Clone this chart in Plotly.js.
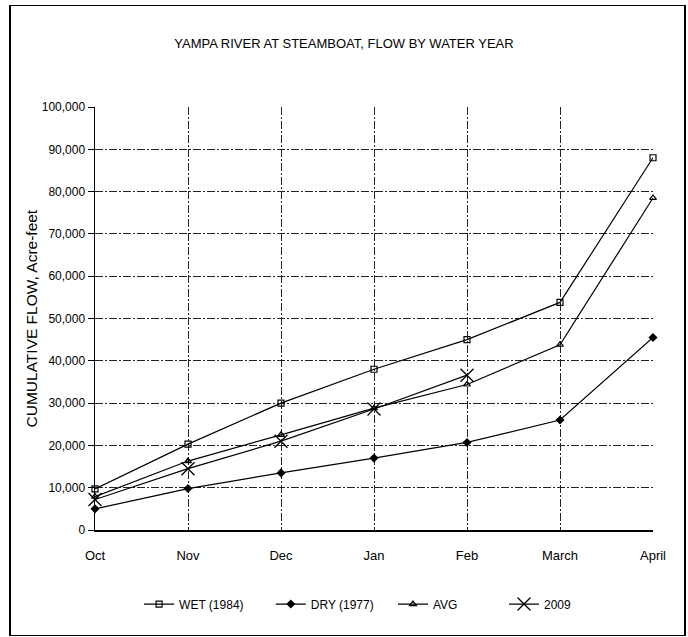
<!DOCTYPE html>
<html><head><meta charset="utf-8">
<script src="https://cdn.plot.ly/plotly-3.0.1.min.js"></script>
<style>
body{margin:0;padding:0;background:#fff;}
#chart{width:688px;height:637px;position:absolute;left:0;top:0;}
#frame{position:absolute;left:9px;top:5px;width:673px;height:629px;border:1px solid #000;border-width:1px 2px 1px 2px;pointer-events:none;}
</style></head>
<body>
<div id="chart"></div><div id="frame"></div>
<script>
const months = ["Oct","Nov","Dec","Jan","Feb","March","April"];
const wet1984 = [9700, 20300, 30000, 38000, 45000, 53800, 88000];
const dry1977 = [5000, 9800, 13500, 17000, 20700, 26000, 45500];
const avg = [7900, 16300, 22500, 28800, 34400, 43800, 78500];
const y2009 = [7200, 14500, 21000, 28600, 36600];
const yTicks = [0,10000,20000,30000,40000,50000,60000,70000,80000,90000,100000];
const yTitle = "CUMULATIVE FLOW, Acre-feet";

const narrow = "Liberation Sans Narrow, Arial Narrow, Liberation Sans, Arial, sans-serif";
const line = {color:"#000", width:1.2};
const traces = [
  {name:"WET (1984)", legend:"legend", x:months, y:wet1984, mode:"lines+markers", line:line,
   marker:{symbol:"square-open", size:6, color:"#000", line:{width:1.2}}},
  {name:"DRY (1977)", legend:"legend2", x:months, y:dry1977, mode:"lines+markers", line:line,
   marker:{symbol:"diamond", size:7, color:"#000"}},
  {name:"AVG", legend:"legend3", x:months, y:avg, mode:"lines+markers", line:line,
   marker:{symbol:"triangle-up-open", size:6, color:"#000", line:{width:1.2}}},
  {name:"2009", legend:"legend4", x:months.slice(0, y2009.length), y:y2009, mode:"lines+markers", line:line,
   marker:{symbol:"x-thin-open", size:13, color:"#000", line:{width:1.3, color:"#000"}}}
];
traces.forEach(t=>t.cliponaxis=false);

function leg(x){
  return {orientation:"h", x:x, xanchor:"left", y:-0.175, yanchor:"middle",
          font:{family:narrow, size:12, color:"#000"}, itemwidth:30, bgcolor:"rgba(0,0,0,0)"};
}

const layout = {
  width:688, height:637,
  margin:{l:95, r:35, t:107, b:107},
  paper_bgcolor:"#fff", plot_bgcolor:"#fff",
  showlegend:true,
  title:{text:"YAMPA RIVER AT STEAMBOAT, FLOW BY WATER YEAR", x:0.5, xanchor:"center", y:0.932, yanchor:"middle",
         font:{family:narrow, size:13, color:"#000"}},
  xaxis:{type:"category", range:[0,6], tickvals:months, ticktext:months,
         showline:true, linecolor:"#000", linewidth:1.5,
         showgrid:true, gridcolor:"#222", griddash:"8px,2px,2px,2px", gridwidth:1,
         ticks:"", ticklabelstandoff:13, tickfont:{family:narrow, size:13, color:"#000"}, zeroline:false, mirror:false},
  yaxis:{range:[0,100000], tickvals:yTicks, tickformat:",d",
         showline:true, linecolor:"#000", linewidth:1.5,
         showgrid:true, gridcolor:"#222", griddash:"8px,2px,2px,2px", gridwidth:1,
         ticks:"outside", ticklen:6, tickcolor:"#000",
         tickfont:{family:narrow, size:12, color:"#000"}, zeroline:false},
  annotations:[{text:yTitle, textangle:-90, xref:"paper", yref:"paper", x:-0.113, y:0.5,
                xanchor:"center", yanchor:"middle", showarrow:false,
                font:{family:"Liberation Sans, Arial, sans-serif", size:15.5, color:"#000"}}],
  legend:leg(0.079), legend2:leg(0.315), legend3:leg(0.534), legend4:leg(0.733)
};
Plotly.newPlot("chart", traces, layout, {staticPlot:true, displayModeBar:false});
</script>
</body></html>
